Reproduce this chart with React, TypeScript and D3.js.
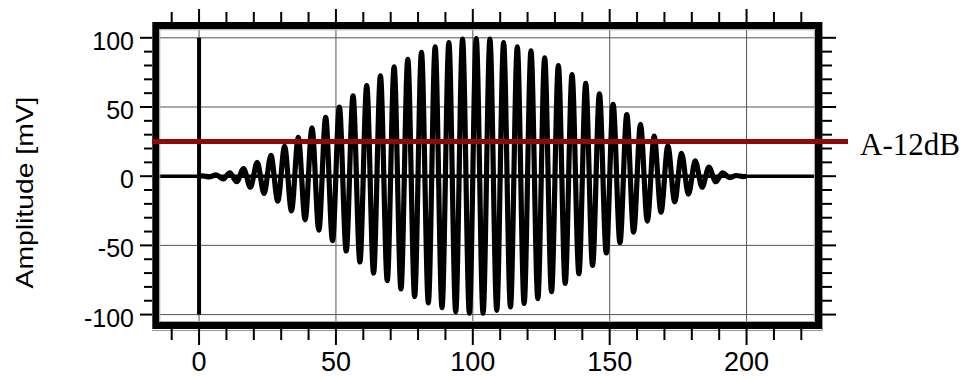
import { useEffect, useRef } from "react";
import * as d3 from "d3";

// axis ticks
const xTicks = [0, 50, 100, 150, 200];
const yTicks = [-100, -50, 0, 50, 100];
const xMinorTicks = d3.range(-10, 221, 10);
const yMinorTicks = d3.range(-100, 101, 10);

// burst: extrema of each half cycle (period 5)
const burstStart = 0;
const burstEnd = 200;
const firstPeak = 1.25;
const halfPeriod = 2.5;
const peakValues = [
  0.2, -0.5, 1, -2, 2.5, -4, 5.5, -8, 10, -12.5,
  15, -18, 21.5, -25, 28, -31.5, 35, -39, 42.5, -46.5,
  50, -54, 58, -62, 65.5, -70, 72.5, -75.5, 79, -81.5,
  84.5, -87, 89.5, -91.5, 93.5, -95, 96.5, -98, 99, -99,
  99.5, -99, 99, -97, 96.5, -94.5, 93.5, -92, 90.5, -88.5,
  85.5, -83.5, 80, -77.5, 73.5, -70.5, 67, -64.5, 59.5, -55.5,
  52, -48, 44.5, -40.5, 37.5, -32.5, 29, -26, 22, -18.5,
  16.5, -13, 11, -8, 6.5, -4, 2.5, -1, 0.5, -0.3,
];

// A-12dB threshold
const thresholdValue = 25;
const thresholdLabel = "A-12dB";
const yTitle = "Amplitude [mV]";

export default function App() {
  const svgRef = useRef(null);

  useEffect(() => {
    const svg = d3.select(svgRef.current);
    svg.selectAll("*").remove();

    const x = d3.scaleLinear().domain([-15, 225]).range([158, 815]);
    const y = d3.scaleLinear().domain([-105, 106]).range([321.5, 29.5]);

    const sans = "'Liberation Sans', Arial, sans-serif";

    // grid
    const grid = svg.append("g");
    grid.selectAll(".gx")
      .data(xTicks)
      .enter()
      .append("line")
      .attr("x1", d => x(d)).attr("x2", d => x(d))
      .attr("y1", 30).attr("y2", 321)
      .attr("stroke", "#555")
      .attr("stroke-width", 1);
    grid.selectAll(".gy")
      .data(yTicks.filter(d => d !== 0))
      .enter()
      .append("line")
      .attr("x1", 160).attr("x2", 814)
      .attr("y1", d => y(d)).attr("y2", d => y(d))
      .attr("stroke", "#555")
      .attr("stroke-width", 1);

    // zero line and the trigger marker at t = 0
    svg.append("line")
      .attr("x1", 159).attr("x2", 815)
      .attr("y1", y(0)).attr("y2", y(0))
      .attr("stroke", "#000")
      .attr("stroke-width", 3.5);
    svg.append("line")
      .attr("x1", x(0)).attr("x2", x(0))
      .attr("y1", y(100)).attr("y2", y(-100))
      .attr("stroke", "#000")
      .attr("stroke-width", 4);

    // signal
    const points = [[burstStart, 0]]
      .concat(peakValues.map((v, i) => [firstPeak + i * halfPeriod, v]))
      .concat([[burstEnd, 0]]);
    const line = d3.line()
      .x(d => x(d[0]))
      .y(d => y(d[1]))
      .curve(d3.curveMonotoneX);
    svg.append("path")
      .attr("d", line(points))
      .attr("fill", "none")
      .attr("stroke", "#000")
      .attr("stroke-width", 5.2)
      .attr("stroke-linejoin", "round");

    // frame
    svg.append("rect")
      .attr("x", 155.8).attr("y", 25.5)
      .attr("width", 662.7).attr("height", 300)
      .attr("fill", "none")
      .attr("stroke", "#000")
      .attr("stroke-width", 7);
    svg.append("rect")
      .attr("x", 159.8).attr("y", 29.8)
      .attr("width", 654.6).attr("height", 291.7)
      .attr("fill", "none")
      .attr("stroke", "#aaa")
      .attr("stroke-width", 1);
    svg.append("path")
      .attr("d", "M152,330.5H822.5V22")
      .attr("fill", "none")
      .attr("stroke", "#999")
      .attr("stroke-width", 1);

    // threshold
    svg.append("line")
      .attr("x1", 152).attr("x2", 848)
      .attr("y1", y(thresholdValue)).attr("y2", y(thresholdValue))
      .attr("stroke", "#8e0a0a")
      .attr("stroke-width", 5);
    svg.append("text")
      .attr("x", 860)
      .attr("y", y(thresholdValue) + 13.5)
      .style("font-family", "'Liberation Serif', 'Times New Roman', serif")
      .style("font-size", "31px")
      .attr("fill", "#000")
      .text(thresholdLabel);

    // ticks
    const ticks = svg.append("g").attr("stroke", "#000").attr("stroke-width", 2);
    xMinorTicks.forEach(t => {
      const major = t % 50 === 0;
      ticks.append("line")
        .attr("x1", x(t)).attr("x2", x(t))
        .attr("y1", 329).attr("y2", major ? 345 : 340);
      ticks.append("line")
        .attr("x1", x(t)).attr("x2", x(t))
        .attr("y1", 22).attr("y2", major ? 9 : 12);
    });
    yMinorTicks.forEach(t => {
      const major = t % 50 === 0;
      ticks.append("line")
        .attr("x1", major ? 140 : 144).attr("x2", 152)
        .attr("y1", y(t)).attr("y2", y(t));
      ticks.append("line")
        .attr("x1", 822).attr("x2", major ? 836 : 832)
        .attr("y1", y(t)).attr("y2", y(t));
    });

    // tick labels
    svg.selectAll(".xl")
      .data(xTicks)
      .enter()
      .append("text")
      .attr("x", d => x(d))
      .attr("y", 371)
      .attr("text-anchor", "middle")
      .style("font-family", sans)
      .style("font-size", "27px")
      .text(d => d);
    svg.selectAll(".yl")
      .data(yTicks)
      .enter()
      .append("text")
      .attr("x", 134)
      .attr("y", d => y(d) + 12)
      .attr("text-anchor", "end")
      .style("font-family", sans)
      .style("font-size", "25px")
      .text(d => d);

    // axis title
    svg.append("text")
      .attr("transform", "translate(33,192.5) rotate(-90)")
      .attr("text-anchor", "middle")
      .attr("textLength", 192)
      .attr("lengthAdjust", "spacingAndGlyphs")
      .style("font-family", sans)
      .style("font-size", "24px")
      .text(yTitle);
  }, []);

  return (
    <svg
      ref={svgRef}
      width={964}
      height={378}
      style={{ position: "absolute", left: 0, top: 0, background: "#fff" }}
    />
  );
}
